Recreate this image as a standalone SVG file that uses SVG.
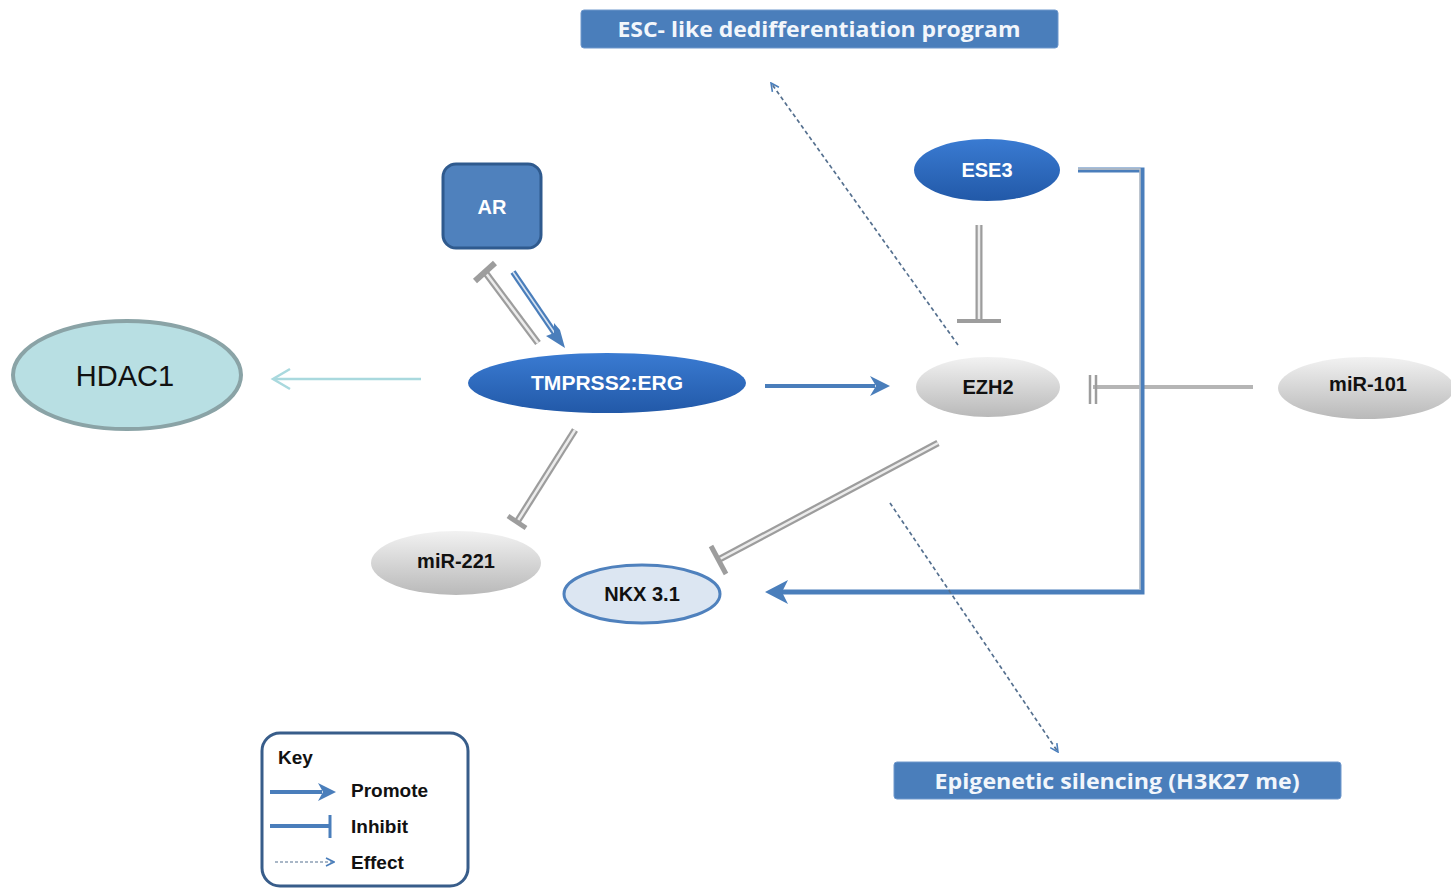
<svg xmlns="http://www.w3.org/2000/svg" width="1451" height="888" viewBox="0 0 1451 888">
<style>
.lbl{font-family:"Liberation Sans",Arial,sans-serif;font-weight:bold;text-anchor:middle;dominant-baseline:central}
.wt{fill:#ffffff}
.bk{fill:#111111}
.box{fill:#4a7ebb;stroke:#6f98cc;stroke-width:1}
.boxt{font-family:"Open Sans","Liberation Sans",sans-serif;font-weight:bold;fill:#f2f6fb;text-anchor:middle;dominant-baseline:central}
.gOut{fill:none;stroke:#9d9d9d;stroke-width:7;stroke-linecap:butt}
.gIn{fill:none;stroke:#ececec;stroke-width:2.5;stroke-linecap:butt}
.bOut{fill:none;stroke:#4a7ebb;stroke-width:6}
.bIn{fill:none;stroke:#d7e3f1;stroke-width:1.6}
.dash{fill:none;stroke:#55708f;stroke-width:1.7;stroke-dasharray:4 3}
.key{font-family:"Liberation Sans",Arial,sans-serif;font-weight:bold;font-size:19px;fill:#111}
</style>
<defs>
<linearGradient id="blueG" x1="0" y1="0" x2="0" y2="1">
<stop offset="0" stop-color="#3a7bd2"/><stop offset="1" stop-color="#2259a8"/>
</linearGradient>
<linearGradient id="grayG" x1="0" y1="0" x2="0" y2="1">
<stop offset="0" stop-color="#f2f2f2"/><stop offset="1" stop-color="#b9b9b9"/>
</linearGradient>
<marker id="dArr" viewBox="0 0 10 10" refX="9" refY="5" markerWidth="10" markerHeight="10" markerUnits="userSpaceOnUse" orient="auto">
<path d="M1,1 L9,5 L1,9" fill="none" stroke="#4a7ebb" stroke-width="1.6"/>
</marker>
</defs>

<g id="connectors">
<line x1="421" y1="379" x2="274" y2="379" stroke="#a9d9de" stroke-width="2.5"/>
<polyline points="290,369 273,379 290,389" fill="none" stroke="#a9d9de" stroke-width="2.5"/>
<line class="gOut" x1="538" y1="343" x2="485" y2="272"/>
<line class="gIn" x1="538" y1="343" x2="485" y2="272"/>
<line class="gOut" x1="495" y1="263" x2="475" y2="281" style="stroke-width:6"/>
<line class="bOut" x1="513" y1="272" x2="558" y2="338"/>
<line class="bIn" x1="513" y1="272" x2="558" y2="338"/>
<polygon points="565,348 546,336 554,333 554,323 560,330" fill="#4a7ebb"/>
<line x1="765" y1="386" x2="875" y2="386" stroke="#4a7ebb" stroke-width="4"/>
<polygon points="890,386 870,376 876,386 870,396" fill="#4a7ebb"/>
<line class="gOut" x1="979" y1="225" x2="979" y2="320"/>
<line class="gIn" x1="979" y1="225" x2="979" y2="320"/>
<line x1="957" y1="321" x2="1001" y2="321" stroke="#9d9d9d" stroke-width="4"/>
<line x1="1253" y1="387" x2="1093" y2="387" stroke="#b5b5b5" stroke-width="4"/>
<line x1="1090" y1="375" x2="1090" y2="404" stroke="#9d9d9d" stroke-width="2.5"/>
<line x1="1096" y1="375" x2="1096" y2="404" stroke="#9d9d9d" stroke-width="2.5"/>
<polyline class="bOut" points="1078,170 1142,170 1142,592 782,592" style="stroke-width:5"/>
<polyline points="1078,169 1140,169 1140,590" fill="none" stroke="#c9c9c9" stroke-width="1.3"/>
<polygon points="765,592 788,580 782,592 788,604" fill="#4a7ebb"/>
<line class="gOut" x1="575" y1="430" x2="517" y2="522"/>
<line class="gIn" x1="575" y1="430" x2="517" y2="522"/>
<line x1="526" y1="528" x2="508" y2="516" stroke="#9d9d9d" stroke-width="5"/>
<line class="gOut" x1="938" y1="443" x2="718" y2="560"/>
<line class="gIn" x1="938" y1="443" x2="718" y2="560"/>
<line x1="726" y1="574" x2="711" y2="546" stroke="#9d9d9d" stroke-width="5"/>
<line class="dash" x1="958" y1="345" x2="771" y2="83" marker-end="url(#dArr)"/>
<line class="dash" x1="890" y1="503" x2="1058" y2="752" marker-end="url(#dArr)"/>
</g>

<g id="esc">
<rect class="box" x="581" y="10" width="477" height="38" rx="3"/>
<text class="boxt" x="819" y="28" font-size="22" textLength="403" lengthAdjust="spacingAndGlyphs">ESC- like dedifferentiation program</text>
</g>
<g id="epigenetic">
<rect class="box" x="894" y="762" width="447" height="37" rx="3"/>
<text class="boxt" x="1117" y="780" font-size="22" textLength="365" lengthAdjust="spacingAndGlyphs">Epigenetic silencing (H3K27 me)</text>
</g>
<g id="ar">
<rect x="443" y="164" width="98" height="84" rx="13" fill="#4f81bd" stroke="#2f5a8e" stroke-width="3"/>
<text class="lbl wt" x="492" y="207" font-size="20">AR</text>
</g>
<g id="ese3">
<ellipse cx="987" cy="170" rx="73" ry="31" fill="url(#blueG)"/>
<text class="lbl wt" x="987" y="170" font-size="20">ESE3</text>
</g>
<g id="tmprss2erg">
<ellipse cx="607" cy="383" rx="139" ry="30" fill="url(#blueG)"/>
<text class="lbl wt" x="607" y="383" font-size="20" textLength="152" lengthAdjust="spacingAndGlyphs">TMPRSS2:ERG</text>
</g>
<g id="ezh2">
<ellipse cx="988" cy="387" rx="72" ry="30" fill="url(#grayG)"/>
<text class="lbl bk" x="988" y="387" font-size="20">EZH2</text>
</g>
<g id="mir101">
<ellipse cx="1366" cy="388" rx="88" ry="31" fill="url(#grayG)"/>
<text class="lbl bk" x="1368" y="384" font-size="20">miR-101</text>
</g>
<g id="mir221">
<ellipse cx="456" cy="563" rx="85" ry="32" fill="url(#grayG)"/>
<text class="lbl bk" x="456" y="561" font-size="20">miR-221</text>
</g>
<g id="nkx31">
<ellipse cx="642" cy="594" rx="78" ry="29" fill="#dce6f2" stroke="#4f81bd" stroke-width="3"/>
<text class="lbl bk" x="642" y="594" font-size="20">NKX 3.1</text>
</g>
<g id="hdac1">
<ellipse cx="127" cy="375" rx="114" ry="54" fill="#b8dfe3" stroke="#8aa3a6" stroke-width="4"/>
<text x="125" y="376" font-family="Liberation Sans,Arial,sans-serif" font-size="29" fill="#111" text-anchor="middle" dominant-baseline="central">HDAC1</text>
</g>
<g id="key">
<rect x="262" y="733" width="206" height="153" rx="18" fill="#ffffff" stroke="#385d8a" stroke-width="3"/>
<text class="key" x="278" y="764">Key</text>
<line x1="270" y1="792" x2="322" y2="792" stroke="#4a7ebb" stroke-width="4"/>
<polygon points="336,792 318,783 323,792 318,801" fill="#4a7ebb"/>
<text class="key" x="351" y="797">Promote</text>
<line x1="270" y1="826" x2="329" y2="826" stroke="#4a7ebb" stroke-width="4"/>
<line x1="330" y1="815" x2="330" y2="838" stroke="#4a7ebb" stroke-width="3"/>
<text class="key" x="351" y="833">Inhibit</text>
<line class="dash" x1="275" y1="862" x2="334" y2="862" style="stroke-dasharray:3 2;stroke-width:1.2" marker-end="url(#dArr)"/>
<text class="key" x="351" y="869">Effect</text>
</g>
</svg>
